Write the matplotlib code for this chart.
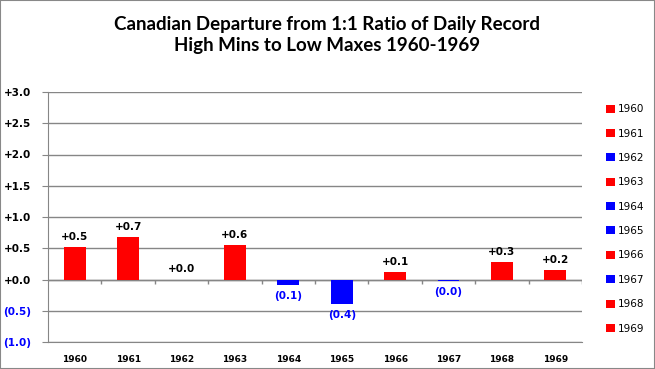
import matplotlib
matplotlib.use("Agg")
import matplotlib.pyplot as plt
from matplotlib.patches import Rectangle

years = ["1960", "1961", "1962", "1963", "1964", "1965", "1966", "1967", "1968", "1969"]
values = [0.52, 0.68, 0.0, 0.55, -0.09, -0.39, 0.12, -0.02, 0.28, 0.15]
labels = ["+0.5", "+0.7", "+0.0", "+0.6", "(0.1)", "(0.4)", "+0.1", "(0.0)", "+0.3", "+0.2"]
colors = ["red", "red", "blue", "red", "blue", "blue", "red", "blue", "red", "red"]
yticks = [-1.0, -0.5, 0.0, 0.5, 1.0, 1.5, 2.0, 2.5, 3.0]
ytick_labels = ["(1.0)", "(0.5)", "+0.0", "+0.5", "+1.0", "+1.5", "+2.0", "+2.5", "+3.0"]

palette = {"red": "#FF0000", "blue": "#0000FF"}
grid = "#868686"

fig = plt.figure(figsize=(6.55, 3.69), dpi=100)
ax = fig.add_axes([48/655, 27/369, 534/655, 250/369])

for i, (yr, v) in enumerate(zip(years, values)):
    col = palette[colors[i]]
    ax.bar(i, v, width=0.41, color=col, label=yr, zorder=3)
    if v >= 0:
        ax.text(i, v + 0.08, labels[i], ha="center", va="bottom", fontsize=7.5,
                fontweight="bold", color="black")
    else:
        ax.text(i, v - 0.1, labels[i], ha="center", va="top", fontsize=7.5,
                fontweight="bold", color=palette["blue"])

ax.set_xlim(-0.5, len(years) - 0.5)
ax.set_ylim(-1.0, 3.0)
ax.set_yticks(yticks)
ax.set_yticklabels(ytick_labels)
for t, v in zip(ax.get_yticklabels(), yticks):
    t.set_color(palette["blue"] if v < 0 else "black")
    t.set_fontweight("bold")
    t.set_fontsize(7.5)
ax.set_xticks(range(len(years)))
ax.set_xticklabels(years, fontsize=6.5, fontweight="bold")
ax.tick_params(axis="x", length=0, pad=9)
ax.tick_params(axis="y", length=4, color=grid, pad=8)

ax.grid(axis="y", color=grid, linewidth=1, zorder=0)
ax.axhline(0, color=grid, linewidth=1, zorder=2)
ax.vlines([i + 0.5 for i in range(len(years))], -0.07, 0, color=grid, linewidth=1, zorder=2)
for s in ["top", "right"]:
    ax.spines[s].set_visible(False)
ax.spines["left"].set_color(grid)
ax.spines["bottom"].set_color(grid)

fig.text(0.5, 0.905, "Canadian Departure from 1:1 Ratio of Daily Record\nHigh Mins to Low Maxes 1960-1969",
         ha="center", va="center", fontsize=13.5, fontweight="bold", family="Lato", linespacing=1.3)

ax.legend(loc="upper left", bbox_to_anchor=(1.038, 0.968), frameon=False, fontsize=7.5,
          handlelength=0.8, handleheight=0.8, handletextpad=0.3, labelspacing=1.38,
          borderaxespad=0)

fig.patches.append(Rectangle((0, 0), 1, 1, transform=fig.transFigure, fill=False,
                             edgecolor="#888888", linewidth=1.5))

fig.savefig("out.png", dpi=100)
